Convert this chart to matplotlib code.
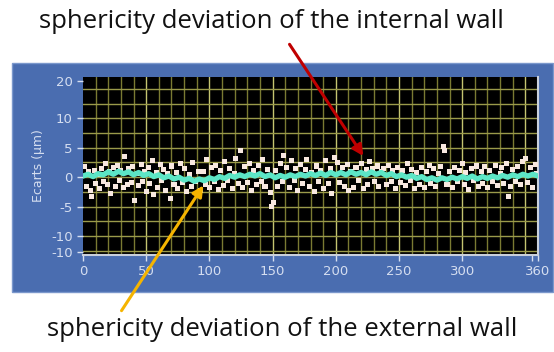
import matplotlib
matplotlib.use('Agg')
import matplotlib.pyplot as plt
from matplotlib.patches import Rectangle
import numpy as np

# measured deviations of the internal wall (white dots)
int_angle = [1, 3, 4, 6, 7, 9, 10, 12, 13, 15, 16, 18, 19, 21, 22, 24, 26, 27, 29, 30,
	32, 33, 35, 36, 38, 39, 41, 43, 44, 46, 47, 49, 50, 52, 53, 55, 56, 58, 59, 61,
	62, 64, 65, 67, 69, 70, 72, 74, 75, 77, 79, 80, 82, 84, 86, 87, 89, 91, 93, 95,
	97, 98, 100, 102, 104, 105, 107, 109, 111, 112, 114, 116, 118, 120, 121, 123, 125, 126, 128, 130,
	132, 133, 135, 137, 139, 141, 142, 144, 146, 148, 149, 151, 152, 154, 156, 158, 159, 161, 163, 165,
	167, 168, 170, 172, 174, 176, 177, 179, 181, 183, 185, 186, 188, 190, 192, 194, 196, 197, 199, 201,
	203, 205, 207, 209, 210, 212, 214, 216, 218, 220, 222, 224, 225, 227, 229, 231, 233, 234, 236, 238,
	240, 242, 244, 245, 247, 249, 251, 253, 255, 257, 259, 260, 262, 264, 266, 268, 270, 272, 274, 275,
	277, 279, 281, 283, 285, 286, 288, 290, 292, 294, 296, 298, 300, 302, 303, 305, 307, 309, 311, 313,
	315, 316, 318, 320, 322, 324, 326, 328, 330, 331, 333, 335, 337, 338, 340, 342, 344, 346, 348, 350,
	352, 354, 356, 358, 359]
int_dev = [1.8, -1.5, 0.9, -2.2, -3.2, 1.2, -1.0, 0.4, -2.0, 1.5, -0.8, 2.4, -1.3, 0.9, -2.8, 1.7, -1.5, 2.0, -0.6, 1.1,
	-1.8, 3.5, -1.2, 1.5, -0.9, 1.8, -4.0, 0.7, -1.4, 2.2, -0.7, 1.0, -2.5, 1.6, -1.1, 2.8, -3.0, 0.8, -1.8, 2.2,
	-0.5, 1.3, -2.2, 0.6, -3.6, 1.9, -1.2, 0.8, -2.0, 2.3, -0.9, 1.4, -2.5, 0.5, -1.6, 2.5, -0.8, 1.0, -2.2, 0.9,
	-1.3, 3.0, -1.8, 1.6, -0.8, 2.0, -2.1, 1.1, -1.4, 2.6, -0.5, 1.4, -2.0, 0.6, 3.2, -1.0, 4.5, -1.7, 1.8, -0.9,
	2.4, -2.2, 1.2, -1.3, 2.0, -0.7, 3.0, -1.6, 1.3, -2.6, -5.0, -4.3, 1.1, -1.5, 2.4, -0.8, 3.6, 1.7, -1.8, 2.9,
	-0.6, 1.5, -2.2, 2.1, -1.0, 1.3, 3.0, -1.6, 0.8, -2.4, 1.9, -0.7, 1.2, -2.0, 2.8, -1.1, 1.4, -2.7, 3.3, 2.5,
	-0.9, 1.6, -1.5, 2.2, -2.3, 1.0, -1.8, 1.7, -0.6, 2.3, -2.0, 1.3, -1.2, 2.6, 1.5, -0.8, 1.9, -1.6, 0.9, 1.5,
	-1.3, 2.0, -0.7, 1.2, -2.0, 1.7, -0.9, 1.1, -1.4, 2.4, -0.6, 1.3, -1.9, 0.8, -1.2, 1.6, -1.7, 0.9, 2.0, -1.0,
	1.4, -1.5, 0.7, 1.8, 5.2, 4.6, -1.2, 1.0, -1.8, 1.6, -0.7, 1.2, 2.4, -1.3, 0.8, -2.1, 1.5, -0.6, 1.9, -1.6,
	0.9, -1.0, 1.8, -1.8, 1.1, -0.8, 2.0, -1.4, 0.7, 1.6, -1.1, 2.3, -3.3, -1.6, 1.3, -0.7, 1.8, -1.3, 2.7, 3.1,
	-0.9, 1.6, -1.8, 2.2, 0.6]

# deviations of the external wall (cyan trace), every 4 degrees
ext_angle = np.arange(0, 361, 4)
ext_dev = [0.2, 0.5, 0.1, 0.6, 0.4, 0.9, 0.5, 1.0, 0.6, 0.9, 0.4, 0.8, 0.3, 0.6, 0.1, 0.4, -0.1, 0.2, -0.3, 0.0,
	-0.5, -0.2, -0.7, -0.3, -0.6, -0.1, -0.4, 0.1, -0.2, 0.3, 0.0, 0.4, 0.1, 0.5, 0.2, 0.6, 0.1, 0.4, -0.1, 0.3,
	0.0, 0.4, 0.1, 0.5, 0.2, 0.6, 0.3, 0.7, 0.3, 0.8, 0.4, 0.8, 0.4, 0.9, 0.5, 0.8, 0.4, 0.9, 0.5, 0.8,
	0.3, 0.6, 0.1, 0.4, 0.0, 0.3, -0.2, 0.1, -0.4, -0.1, -0.5, -0.1, -0.4, 0.0, -0.3, 0.1, -0.2, 0.2, -0.3, 0.1,
	-0.2, 0.2, -0.1, 0.3, 0.0, 0.4, 0.1, 0.5, 0.2, 0.5, 0.2]

x_ticks = [0, 50, 100, 150, 200, 250, 300, 360]
y_ticks = [16.4, 10, 5, 0, -5, -10, -12.7]
y_ticklabels = ['20', '10', '5', '0', '-5', '-10', '-10']

W, H = 554, 352
fig = plt.figure(figsize=(W / 100, H / 100), dpi=100)
fig.patch.set_facecolor('white')

# blue instrument panel behind the graph
bg = fig.add_axes([0, 0, 1, 1], zorder=0)
bg.set_axis_off()
bg.add_patch(Rectangle((12 / W, (H - 292) / H), 541 / W, 229 / H,
	transform=fig.transFigure, facecolor='#4a6db0', edgecolor='#7b98cc', lw=1))

ax = fig.add_axes([83 / W, (H - 255) / H, 455 / W, 178 / H], zorder=2)
ax.set_facecolor('black')
ax.set_xlim(0, 360)
ax.set_ylim(-13.2, 17)

# grid
for gx in np.arange(10, 360, 10):
	c = '#c4c470' if gx % 50 == 0 else '#7a7a32'
	ax.axvline(gx, color=c, lw=1.0, zorder=1)
for gy in np.arange(-12.5, 16, 2.5):
	ax.axhline(gy, color='#9a9a4a', lw=1.0, zorder=1)

ax.scatter(int_angle, int_dev, s=13, marker='s', color='#f8e8e0', edgecolors='none', zorder=3)
ax.plot(ext_angle, ext_dev, color='#5ce6c6', lw=3.8, zorder=4, solid_joinstyle='round')

ax.set_xticks(x_ticks + [355])
ax.set_xticklabels([str(t) for t in x_ticks] + [''])
ax.set_yticks(y_ticks)
ax.set_yticklabels(y_ticklabels)
ax.tick_params(colors='#d5def0', labelcolor='#d5def0', labelsize=9.5, length=4, width=1)
for side in ['top', 'left']:
	ax.spines[side].set_visible(False)
for side in ['bottom', 'right']:
	ax.spines[side].set_color('#c9d0dc')
	ax.spines[side].set_linewidth(1.5)
ax.set_ylabel('Ecarts (µm)', color='#d5def0', fontsize=9, labelpad=4)

# annotations
fig.text(0.49, (H - 22) / H, 'sphericity deviation of the internal wall', ha='center', va='center',
	fontsize=18.5, family='Open Sans', color='#111111')
fig.text(0.51, (H - 330) / H, 'sphericity deviation of the external wall', ha='center', va='center',
	fontsize=18.5, family='Open Sans', color='#111111')
ax.annotate('', xy=(223, 3.2), xycoords='data', xytext=(288, H - 42), textcoords='figure pixels',
	arrowprops=dict(arrowstyle='-|>', color='#c00000', lw=2.2, mutation_scale=16), zorder=6,
	annotation_clip=False)
ax.annotate('', xy=(96.5, -1.0), xycoords='data', xytext=(120, H - 313), textcoords='figure pixels',
	arrowprops=dict(arrowstyle='-|>', color='#f5b400', lw=2.2, mutation_scale=16), zorder=6,
	annotation_clip=False)

plt.savefig('out.png', dpi=100)
